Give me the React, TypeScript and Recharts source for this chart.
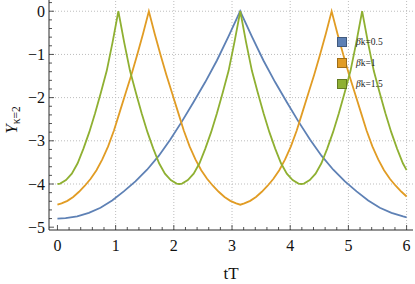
import React from "react";
import { LineChart, Line, XAxis, YAxis, ReferenceLine, Legend } from "recharts";

// values (tT vs Y_{κ=2})
const blueT = [0, 0.14, 0.34, 0.54, 0.74, 0.94, 1.14, 1.34, 1.54, 1.74, 1.94, 2.14, 2.34, 2.54, 2.74, 2.94, 3.14, 3.34, 3.54, 3.74, 3.94, 4.14, 4.34, 4.54, 4.74, 4.94, 5.14, 5.34, 5.54, 5.74, 5.94, 6.0];
const blueY = [-4.8, -4.79, -4.75, -4.67, -4.55, -4.38, -4.17, -3.94, -3.67, -3.35, -2.97, -2.55, -2.1, -1.64, -1.14, -0.58, 0, -0.58, -1.14, -1.64, -2.1, -2.55, -2.97, -3.35, -3.67, -3.94, -4.17, -4.38, -4.55, -4.67, -4.75, -4.77];

const orangeT = [0, 0.071, 0.171, 0.271, 0.371, 0.471, 0.571, 0.671, 0.771, 0.871, 0.971, 1.071, 1.171, 1.271, 1.371, 1.471, 1.571, 1.671, 1.771, 1.871, 1.971, 2.071, 2.171, 2.271, 2.371, 2.471, 2.571, 2.671, 2.771, 2.871, 2.971, 3.071, 3.142, 3.212, 3.312, 3.412, 3.512, 3.612, 3.712, 3.812, 3.912, 4.012, 4.112, 4.212, 4.312, 4.412, 4.512, 4.612, 4.712, 4.812, 4.912, 5.012, 5.112, 5.212, 5.312, 5.412, 5.512, 5.612, 5.712, 5.812, 5.912, 6.0];
const orangeY = [-4.48, -4.45, -4.39, -4.3, -4.18, -4.04, -3.88, -3.68, -3.43, -3.13, -2.76, -2.33, -1.9, -1.47, -1.01, -0.52, 0, -0.52, -1.01, -1.47, -1.9, -2.33, -2.76, -3.13, -3.43, -3.68, -3.88, -4.04, -4.18, -4.3, -4.39, -4.45, -4.48, -4.45, -4.39, -4.3, -4.18, -4.04, -3.88, -3.68, -3.43, -3.13, -2.76, -2.33, -1.9, -1.47, -1.01, -0.52, 0, -0.52, -1.01, -1.47, -1.9, -2.33, -2.76, -3.13, -3.43, -3.68, -3.88, -4.04, -4.18, -4.29];

const greenT = [0, 0.047, 0.147, 0.247, 0.347, 0.447, 0.547, 0.647, 0.747, 0.847, 0.947, 1.047, 1.147, 1.247, 1.347, 1.447, 1.547, 1.647, 1.747, 1.847, 1.947, 2.047, 2.094, 2.141, 2.241, 2.341, 2.441, 2.541, 2.641, 2.741, 2.841, 2.941, 3.041, 3.142, 3.242, 3.342, 3.442, 3.542, 3.642, 3.742, 3.842, 3.942, 4.042, 4.142, 4.189, 4.236, 4.336, 4.436, 4.536, 4.636, 4.736, 4.836, 4.936, 5.036, 5.136, 5.236, 5.336, 5.436, 5.536, 5.636, 5.736, 5.836, 5.936, 6.0];
const greenY = [-4.0, -3.99, -3.91, -3.76, -3.52, -3.18, -2.8, -2.36, -1.88, -1.38, -0.72, 0, -0.72, -1.38, -1.88, -2.36, -2.8, -3.18, -3.52, -3.76, -3.91, -3.99, -4.0, -3.99, -3.91, -3.76, -3.52, -3.18, -2.8, -2.36, -1.88, -1.38, -0.72, 0, -0.72, -1.38, -1.88, -2.36, -2.8, -3.18, -3.52, -3.76, -3.91, -3.99, -4.0, -3.99, -3.91, -3.76, -3.52, -3.18, -2.8, -2.36, -1.88, -1.38, -0.72, 0, -0.72, -1.38, -1.88, -2.36, -2.8, -3.18, -3.52, -3.68];

const seriesNames = ["βk=0.5", "βk=1", "βk=1.5"];
const seriesColors = ["#5E81B5", "#E19C24", "#8FB032"];

const xTicks = [0, 0.2, 0.4, 0.6, 0.8, 1, 1.2, 1.4, 1.6, 1.8, 2, 2.2, 2.4, 2.6, 2.8, 3, 3.2, 3.4, 3.6, 3.8, 4, 4.2, 4.4, 4.6, 4.8, 5, 5.2, 5.4, 5.6, 5.8, 6];
const yTicks = [-5, -4.8, -4.6, -4.4, -4.2, -4, -3.8, -3.6, -3.4, -3.2, -3, -2.8, -2.6, -2.4, -2.2, -2, -1.8, -1.6, -1.4, -1.2, -1, -0.8, -0.6, -0.4, -0.2, 0, 0.2];
const xGrid = [1, 2, 3, 4, 5, 6];
const yGrid = [-4, -3, -2, -1, 0];

const toRows = (ts: number[], ys: number[]) => ts.map((t, i) => ({ t, y: ys[i] }));
const blueData = toRows(blueT, blueY);
const orangeData = toRows(orangeT, orangeY);
const greenData = toRows(greenT, greenY);

const FONT = "'Liberation Serif', 'Times New Roman', serif";
const AXIS = "#2b2b2b";

const isMajor = (v: number) => Math.abs(v - Math.round(v)) < 1e-6;
const fmt = (v: number) => (v < 0 ? "\u2212" + Math.abs(Math.round(v)) : String(Math.round(v)));

const LeftTick = ({ x, y, payload }: any) => {
  const major = isMajor(payload.value);
  return (
    <g>
      <line x1={x} x2={x + (major ? 5 : 3)} y1={y} y2={y} stroke={AXIS} strokeWidth={0.8} />
      {major && (
        <text x={x - 4} y={y} dy="0.35em" textAnchor="end" fontFamily={FONT} fontSize={16} fill="#111">
          {fmt(payload.value)}
        </text>
      )}
    </g>
  );
};

const RightTick = ({ x, y, payload }: any) => {
  const major = isMajor(payload.value);
  return <line x1={x} x2={x - (major ? 5 : 3)} y1={y} y2={y} stroke={AXIS} strokeWidth={0.8} />;
};

const BottomTick = ({ x, y, payload }: any) => {
  const major = isMajor(payload.value);
  return (
    <g>
      <line x1={x} x2={x} y1={y} y2={y - (major ? 5 : 3)} stroke={AXIS} strokeWidth={0.8} />
      {major && (
        <text x={x} y={y + 21} textAnchor="middle" fontFamily={FONT} fontSize={16} fill="#111">
          {fmt(payload.value)}
        </text>
      )}
    </g>
  );
};

const YLabel = ({ viewBox }: any) => {
  const cy = viewBox.y + viewBox.height / 2;
  return (
    <text transform="rotate(-90)" x={-(cy + 5)} y={17} textAnchor="middle" fontFamily={FONT} fill="#111">
      <tspan fontSize={17} fontStyle="italic">Y</tspan>
      <tspan fontSize={11.5} dy={3}>κ=2</tspan>
    </text>
  );
};

const LegendBox = () => (
  <div style={{ fontFamily: FONT }}>
    {seriesNames.map((name, i) => (
      <div key={name} style={{ display: "flex", alignItems: "center", height: 21 }}>
        <div
          style={{
            width: 8,
            height: 8,
            background: seriesColors[i],
            border: "1px solid rgba(0,0,0,0.3)",
          }}
        />
        <span style={{ marginLeft: 9, fontSize: 9.5, color: "#222", whiteSpace: "nowrap" }}>
          <i>β</i>
          {name.slice(1)}
        </span>
      </div>
    ))}
  </div>
);

const App = () => {
  return (
    <div style={{ position: "absolute", left: 0, top: 0, width: 415, height: 284, background: "#fff" }}>
      <LineChart width={415} height={284} margin={{ top: 0, right: 2, bottom: 0, left: 0 }}>
        <XAxis
          dataKey="t"
          type="number"
          domain={[-0.145, 6.11]}
          ticks={xTicks}
          interval={0}
          allowDataOverflow
          height={54}
          tickSize={0}
          tickMargin={0}
          tickLine={false}
          axisLine={{ stroke: AXIS, strokeWidth: 1 }}
          tick={<BottomTick />}
          label={{ value: "tT", position: "insideBottom", offset: 5, fontFamily: FONT, fontSize: 17, fill: "#111" }}
        />
        <YAxis
          yAxisId="l"
          type="number"
          domain={[-5.065, 0.26]}
          ticks={yTicks}
          interval={0}
          allowDataOverflow
          width={49}
          tickSize={0}
          tickMargin={0}
          tickLine={false}
          axisLine={{ stroke: AXIS, strokeWidth: 1 }}
          tick={<LeftTick />}
          label={<YLabel />}
        />
        <YAxis
          yAxisId="r"
          orientation="right"
          type="number"
          domain={[-5.065, 0.26]}
          ticks={yTicks}
          interval={0}
          allowDataOverflow
          width={0}
          tickSize={0}
          tickMargin={0}
          tickLine={false}
          axisLine={{ stroke: AXIS, strokeWidth: 1 }}
          tick={<RightTick />}
        />
        {xGrid.map((v) => (
          <ReferenceLine key={"x" + v} x={v} yAxisId="l" stroke="#bdbdbd" strokeDasharray="1 2" />
        ))}
        {yGrid.map((v) => (
          <ReferenceLine key={"y" + v} y={v} yAxisId="l" stroke="#bdbdbd" strokeDasharray="1 2" />
        ))}
        <Line data={blueData} yAxisId="l" dataKey="y" name={seriesNames[0]} type="linear" stroke={seriesColors[0]} strokeWidth={1.8} dot={false} isAnimationActive={false} />
        <Line data={orangeData} yAxisId="l" dataKey="y" name={seriesNames[1]} type="linear" stroke={seriesColors[1]} strokeWidth={1.8} dot={false} isAnimationActive={false} />
        <Line data={greenData} yAxisId="l" dataKey="y" name={seriesNames[2]} type="linear" stroke={seriesColors[2]} strokeWidth={1.8} dot={false} isAnimationActive={false} />
        <Legend
          layout="vertical"
          align="center"
          verticalAlign="middle"
          content={<LegendBox />}
          wrapperStyle={{ top: 31, left: 337, width: 75, height: 63 }}
        />
      </LineChart>
    </div>
  );
};

export default App;
